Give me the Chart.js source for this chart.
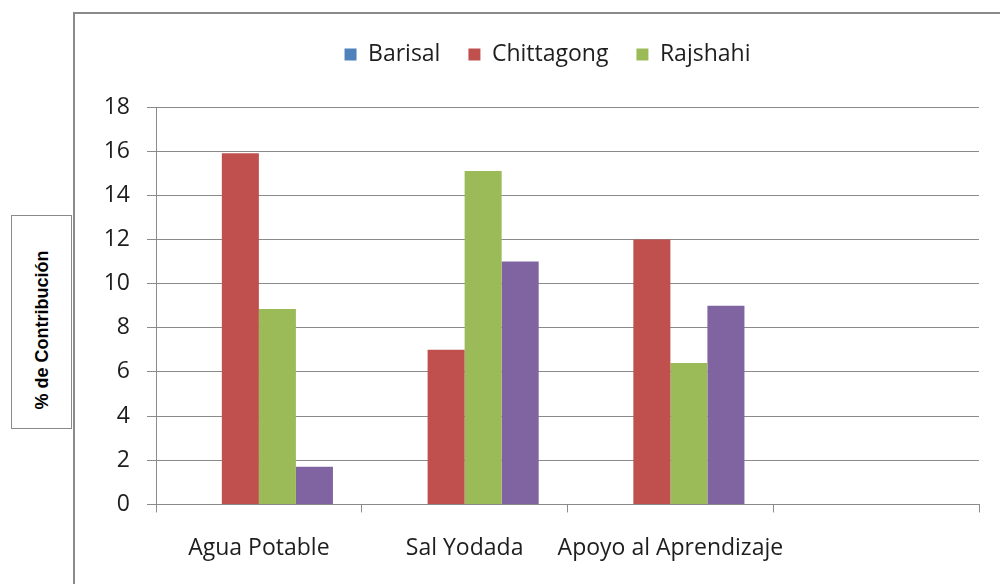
<!DOCTYPE html>
<html>
<head>
<meta charset="utf-8">
<script src="https://cdn.jsdelivr.net/npm/chart.js@4"></script>
<style>
    body { margin: 0; background: #fff; }
    #wrap { position: relative; width: 1000px; height: 584px; overflow: hidden; }
    #frame { position: absolute; left: 73px; top: 12px; width: 1000px; height: 700px;
             border-left: 2px solid #8a8a8a; border-top: 2px solid #8a8a8a; }
    #ytitle { position: absolute; left: 11px; top: 215px; width: 59px; height: 212px;
              border: 1px solid #8a8a8a; background: #fff; }
    #ytitle span { position: absolute; left: 50%; top: calc(50% + 8px); white-space: nowrap;
                   transform: translate(-50%, -50%) rotate(-90deg);
                   font: bold 18px "Liberation Sans", Arial, sans-serif; color: #000; }
    canvas { position: absolute; left: 0; top: 0; }
</style>
</head>
<body>
<div id="wrap">
    <div id="frame"></div>
    <div id="ytitle"><span>% de Contribución</span></div>
    <canvas id="chart" width="1000" height="584"></canvas>
</div>
<script>
const categories = ['Agua Potable', 'Sal Yodada', 'Apoyo al Aprendizaje', ''];
const barisal = [null, null, null, null];
const chittagong = [15.9, 7.0, 12.0, null];
const rajshahi = [8.85, 15.1, 6.4, null];
const serie4 = [1.7, 11.0, 9.0, null];
const yTicks = [0, 2, 4, 6, 8, 10, 12, 14, 16, 18];

const textColor = '#1e1e1e';
const fontFamily = '"Open Sans", Lato, sans-serif';

// legend: fixed height so the plot starts lower, and nudged right like the original
const legendSpacing = {
    id: 'legendSpacing',
    beforeInit(chart) {
        const fit = chart.legend.fit;
        chart.legend.fit = function () {
            fit.bind(chart.legend)();
            this.height = 92;
        };
    },
    afterLayout(chart) {
        chart.legend.left += 10;
        chart.legend.right += 10;
    }
};

const ctx = document.getElementById('chart').getContext('2d');
new Chart(ctx, {
    type: 'bar',
    data: {
        labels: categories,
        datasets: [
            { label: 'Barisal', data: barisal, backgroundColor: '#4F81BD' },
            { label: 'Chittagong', data: chittagong, backgroundColor: '#C0504D' },
            { label: 'Rajshahi', data: rajshahi, backgroundColor: '#9BBB59' },
            { label: '', data: serie4, backgroundColor: '#8064A2' }
        ]
    },
    plugins: [legendSpacing],
    options: {
        responsive: false,
        animation: false,
        datasets: {
            bar: { categoryPercentage: 0.72, barPercentage: 1.0 }
        },
        layout: {
            padding: { left: 96, right: 21, top: 15, bottom: 0 }
        },
        plugins: {
            tooltip: { enabled: false },
            legend: {
                position: 'top',
                labels: {
                    filter: item => item.text !== '',
                    boxWidth: 12,
                    boxHeight: 12,
                    padding: 28,
                    color: textColor,
                    font: { family: fontFamily, size: 23 }
                }
            }
        },
        scales: {
            x: {
                grid: {
                    drawOnChartArea: false,
                    color: '#8a8a8a',
                    tickLength: 8
                },
                border: { color: '#8a8a8a', width: 1 },
                ticks: {
                    color: textColor,
                    padding: 22,
                    autoSkip: false,
                    maxRotation: 0,
                    font: { family: fontFamily, size: 23 }
                }
            },
            y: {
                min: 0,
                max: 18,
                afterFit: s => { s.width = 60; },
                afterBuildTicks: s => { s.ticks = yTicks.map(v => ({ value: v })); },
                grid: { color: '#8a8a8a', tickLength: 9 },
                border: { color: '#8a8a8a', width: 1 },
                ticks: {
                    color: textColor,
                    padding: 17,
                    font: { family: fontFamily, size: 23 }
                }
            }
        }
    }
});
</script>
</body>
</html>
